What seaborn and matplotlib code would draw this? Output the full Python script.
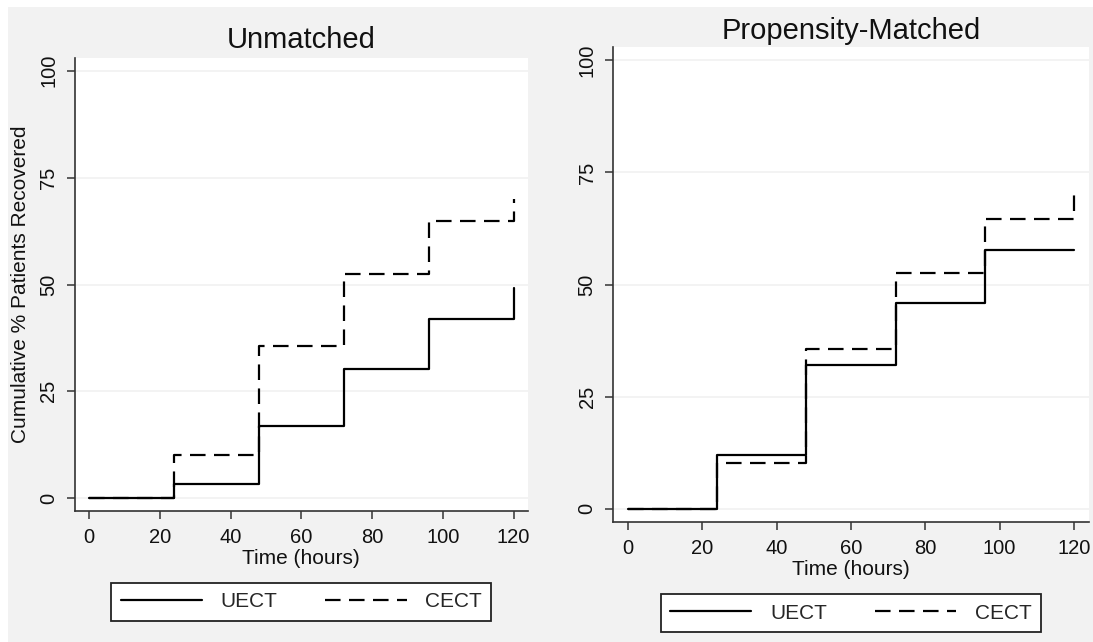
import matplotlib
matplotlib.use("Agg")
import matplotlib.pyplot as plt
from matplotlib.patches import Rectangle
import seaborn as sns
import pandas as pd

# step times (hours) and cumulative % recovered
times = [0, 24, 48, 72, 96, 120]

unmatched_uect = [0, 3.3, 16.8, 30.2, 41.9, 49.1]
unmatched_cect = [0, 10.2, 35.5, 52.5, 64.8, 70.1]

matched_uect = [0, 11.9, 32.1, 45.8, 57.6, 57.6]
matched_cect = [0, 10.2, 35.5, 52.5, 64.7, 70.2]

panel_titles = ["Unmatched", "Propensity-Matched"]
groups = ["UECT", "CECT"]
y_ticks = [0, 25, 50, 75, 100]
x_ticks = [0, 20, 40, 60, 80, 100, 120]

sns.set_style("white")
plt.rcParams["font.family"] = ["Liberation Sans", "DejaVu Sans"]

BG = "#f2f2f2"
DASH = (7.0, 3.8)

fig = plt.figure(figsize=(10.93, 6.42), dpi=100, facecolor="white")
fig.patches.append(Rectangle((8 / 1093, 0), 1, 1 - 7 / 642, transform=fig.transFigure,
                             facecolor=BG, edgecolor="none", zorder=-10))

# axes placed to match the two Stata-style graph regions
ax1 = fig.add_axes([0.0686, 0.2040, 0.4142, 0.7057])
ax2 = fig.add_axes([0.5611, 0.1869, 0.4350, 0.7399])


def draw_panel(ax, uect, cect, title, ylabel, legend_y, title_pad):
    df = pd.DataFrame({"Time": times, groups[0]: uect, groups[1]: cect})
    sns.lineplot(data=df, x="Time", y=groups[0], ax=ax, color="black", lw=1.6,
                 drawstyle="steps-post", label=groups[0])
    sns.lineplot(data=df, x="Time", y=groups[1], ax=ax, color="black", lw=1.6,
                 drawstyle="steps-post", dashes=DASH, label=groups[1])

    ax.set_facecolor("white")
    ax.set_xlim(-4, 124)
    ax.set_ylim(-3, 103)
    ax.set_xticks(x_ticks)
    ax.set_yticks(y_ticks)
    ax.grid(axis="y", color="#f1f1f1", lw=1.2)
    ax.grid(axis="x", visible=False)
    ax.set_axisbelow(True)

    for side in ["top", "right"]:
        ax.spines[side].set_visible(False)
    for side in ["left", "bottom"]:
        ax.spines[side].set_color("#333333")
        ax.spines[side].set_linewidth(1.2)

    ax.tick_params(axis="both", direction="out", length=6, width=1.1,
                   color="#333333", labelsize=14.5, labelcolor="#111111",
                   pad=6, left=True, bottom=True)
    for lab in ax.get_yticklabels():
        lab.set_rotation(90)
        lab.set_va("center")

    ax.set_title(title, fontsize=21, pad=title_pad, color="#111111")
    ax.set_xlabel("Time (hours)", fontsize=15, labelpad=2, color="#111111")
    ax.set_ylabel(ylabel, fontsize=15, labelpad=7, color="#111111")

    leg = ax.legend(loc="upper center", bbox_to_anchor=(0.5, legend_y), ncol=2,
                    frameon=True, fancybox=False, fontsize=15, handlelength=3.9,
                    handletextpad=0.9, columnspacing=2.3, borderpad=0.45,
                    borderaxespad=0)
    leg.get_frame().set_edgecolor("#222222")
    leg.get_frame().set_linewidth(1.3)
    leg.get_frame().set_facecolor("white")
    leg.get_frame().set_alpha(1)


draw_panel(ax1, unmatched_uect, unmatched_cect, panel_titles[0],
           "Cumulative % Patients Recovered", -0.159, 7)
draw_panel(ax2, matched_uect, matched_cect, panel_titles[1], "", -0.152, 6)

fig.savefig("out.png", dpi=100, facecolor=fig.get_facecolor())
